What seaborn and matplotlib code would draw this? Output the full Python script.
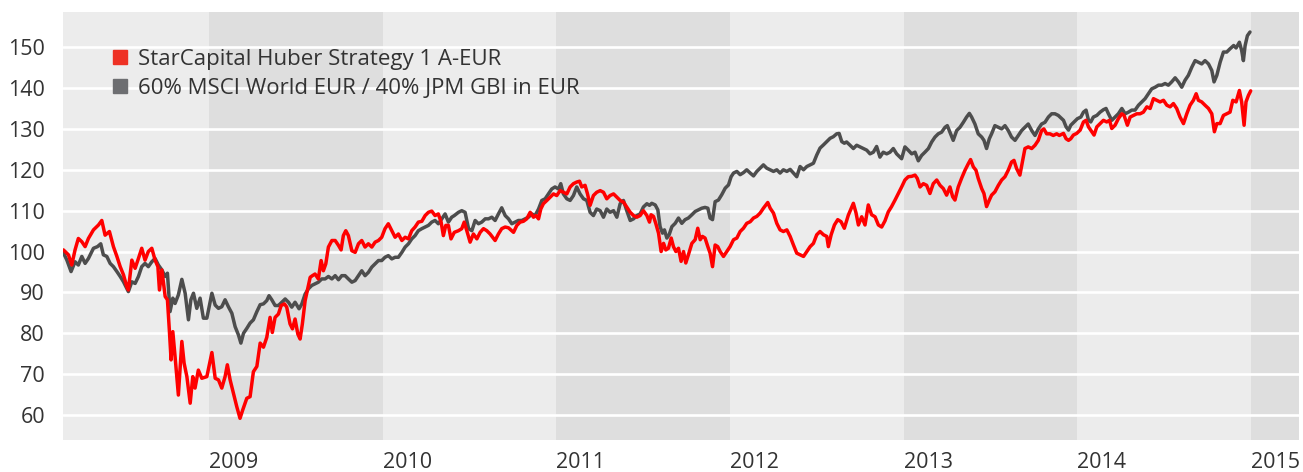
import matplotlib
matplotlib.use("Agg")
import matplotlib.pyplot as plt
from matplotlib.lines import Line2D
import seaborn as sns
import pandas as pd

# values (x in decimal years)
red_year = [
    2008.161, 2008.190, 2008.209, 2008.228, 2008.247, 2008.267, 2008.286, 2008.305, 2008.334, 2008.363,
    2008.382, 2008.401, 2008.426, 2008.449, 2008.469, 2008.488, 2008.507, 2008.526, 2008.535, 2008.555,
    2008.574, 2008.593, 2008.612, 2008.631, 2008.650, 2008.670, 2008.689, 2008.705, 2008.714, 2008.728,
    2008.747, 2008.760, 2008.771, 2008.781, 2008.791, 2008.804, 2008.823, 2008.843, 2008.856, 2008.872,
    2008.891, 2008.906, 2008.919, 2008.938, 2008.958, 2008.987, 2009.016, 2009.035, 2009.054, 2009.073,
    2009.092, 2009.105, 2009.121, 2009.140, 2009.159, 2009.178, 2009.194, 2009.217, 2009.236, 2009.246,
    2009.255, 2009.275, 2009.294,
    2009.313, 2009.332, 2009.351, 2009.364, 2009.380, 2009.399, 2009.415, 2009.434, 2009.447, 2009.466,
    2009.480, 2009.495, 2009.511, 2009.524, 2009.537, 2009.553, 2009.568, 2009.582, 2009.595, 2009.610,
    2009.629, 2009.645, 2009.658, 2009.672, 2009.687, 2009.707, 2009.726, 2009.745, 2009.760, 2009.773,
    2009.787, 2009.802, 2009.822, 2009.841, 2009.860, 2009.879, 2009.898, 2009.917, 2009.937, 2009.956,
    2009.975, 2009.994, 2010.013, 2010.032, 2010.052, 2010.071, 2010.090, 2010.110, 2010.129, 2010.148,
    2010.167, 2010.186, 2010.205, 2010.225, 2010.244, 2010.263, 2010.282, 2010.301, 2010.320, 2010.336,
    2010.349, 2010.363, 2010.378, 2010.393, 2010.412,
    2010.436, 2010.455, 2010.469, 2010.484, 2010.503, 2010.522, 2010.542, 2010.561, 2010.580, 2010.599,
    2010.618, 2010.647, 2010.666, 2010.685, 2010.705, 2010.724, 2010.753, 2010.772, 2010.791, 2010.810,
    2010.829, 2010.849, 2010.868, 2010.883, 2010.897, 2010.910, 2010.925, 2010.945, 2010.964, 2010.983,
    2011.002, 2011.021, 2011.041, 2011.060, 2011.079, 2011.098, 2011.117, 2011.133, 2011.146, 2011.165,
    2011.179, 2011.194, 2011.213, 2011.232, 2011.252, 2011.271, 2011.290, 2011.309, 2011.329, 2011.348,
    2011.367, 2011.386, 2011.405, 2011.425, 2011.444, 2011.463, 2011.482, 2011.501, 2011.521, 2011.536,
    2011.545, 2011.559, 2011.572, 2011.588, 2011.603, 2011.617, 2011.630, 2011.645, 2011.661, 2011.674,
    2011.688, 2011.703, 2011.718, 2011.732, 2011.745, 2011.760, 2011.780, 2011.799, 2011.814, 2011.828,
    2011.841, 2011.856, 2011.872, 2011.885, 2011.899, 2011.914, 2011.929, 2011.943, 2011.962, 2011.981,
    2012.000, 2012.020, 2012.039, 2012.058, 2012.077, 2012.096, 2012.116, 2012.135, 2012.154, 2012.173,
    2012.192, 2012.206, 2012.217, 2012.231, 2012.250, 2012.269, 2012.288, 2012.307, 2012.327, 2012.346,
    2012.365, 2012.384, 2012.403, 2012.423, 2012.442, 2012.461, 2012.480, 2012.499, 2012.518, 2012.538,
    2012.557, 2012.566, 2012.582, 2012.601, 2012.620, 2012.639, 2012.658,
    2012.681, 2012.694, 2012.710, 2012.725, 2012.739, 2012.758, 2012.777, 2012.796, 2012.815, 2012.835,
    2012.854, 2012.873, 2012.892, 2012.911, 2012.930, 2012.950, 2012.969, 2012.988, 2013.007, 2013.026,
    2013.046, 2013.065, 2013.078, 2013.094, 2013.113, 2013.132, 2013.151, 2013.170, 2013.190, 2013.209,
    2013.228, 2013.247, 2013.266, 2013.282, 2013.295, 2013.314, 2013.333, 2013.353, 2013.372, 2013.385,
    2013.401, 2013.416, 2013.429, 2013.449, 2013.462, 2013.477, 2013.493, 2013.506, 2013.525, 2013.545,
    2013.564, 2013.583, 2013.602, 2013.621, 2013.635, 2013.650, 2013.669, 2013.685, 2013.698, 2013.717,
    2013.737, 2013.756, 2013.775, 2013.794, 2013.807, 2013.823, 2013.842, 2013.861, 2013.881, 2013.896,
    2013.920, 2013.935, 2013.949, 2013.962, 2013.977, 2013.996, 2014.016, 2014.035, 2014.050, 2014.064,
    2014.083, 2014.096, 2014.112, 2014.131, 2014.150, 2014.169, 2014.185, 2014.198, 2014.217, 2014.236,
    2014.256, 2014.269, 2014.288, 2014.304, 2014.323, 2014.342, 2014.361, 2014.380, 2014.400, 2014.419,
    2014.438, 2014.457, 2014.476, 2014.496, 2014.515, 2014.534, 2014.553, 2014.572, 2014.591, 2014.611,
    2014.630, 2014.649, 2014.668, 2014.684, 2014.697, 2014.716, 2014.735, 2014.755, 2014.774, 2014.789,
    2014.803, 2014.822, 2014.841, 2014.860, 2014.879, 2014.895, 2014.914, 2014.933, 2014.946, 2014.960,
    2014.971, 2014.985, 2014.998,
]
red_value = [
    100.4, 99.2, 96.7, 100.4, 103.2, 102.4, 101.2, 103.2, 105.3, 106.5,
    107.6, 104.0, 104.9, 101.2, 98.8, 96.3, 94.3, 91.4, 90.6, 97.9,
    95.9, 98.3, 100.8, 97.9, 100.0, 100.8, 97.9, 96.3, 90.6, 95.5,
    89.0, 88.2, 80.8, 73.5, 80.4, 74.3, 64.9, 78.0, 72.7, 69.4,
    62.9, 69.4, 66.6, 71.0, 69.0, 69.4, 75.3, 69.0, 68.6, 66.6,
    69.4, 72.3, 68.6, 65.3, 62.1, 59.2, 61.3, 64.1, 64.5, 67.8,
    70.6, 71.9, 77.6,
    76.6, 79.0, 83.9, 80.2, 83.9, 84.7, 86.8, 87.2, 86.4, 82.3,
    81.1, 83.5, 79.8, 78.6, 82.3, 88.0, 90.9, 93.7, 94.1, 94.5,
    93.3, 97.8, 95.3, 97.0, 101.1, 102.7, 102.7, 101.5, 100.4, 103.9,
    105.1, 103.9, 100.2, 99.8, 101.9, 102.7, 101.1, 101.9, 101.1, 102.3,
    102.7, 103.5, 105.6, 106.8, 105.1, 103.5, 104.3, 102.7, 103.5, 103.1,
    105.1, 106.0, 107.2, 107.4, 108.8, 109.6, 109.9, 108.8, 109.2, 107.2,
    103.9, 106.4, 106.4, 103.1, 104.7,
    105.1, 105.6, 107.2, 105.1, 102.3, 104.3, 103.1, 104.7, 105.6, 105.1,
    104.3, 102.7, 104.3, 105.6, 106.0, 105.8, 104.7, 106.4, 107.2, 107.4,
    108.0, 109.6, 108.4, 108.8, 108.0, 110.4, 111.7, 112.5, 113.3, 114.1,
    113.7, 114.9, 114.5, 114.1, 115.8, 116.6, 117.0, 117.2, 115.8, 116.2,
    114.1, 111.3, 113.7, 114.5, 114.9, 114.5, 112.9, 113.7, 114.1, 113.3,
    112.5, 112.1, 110.9, 109.6, 108.8, 108.4, 108.8, 110.0, 108.8, 107.2,
    109.0, 108.6, 106.9, 104.5, 100.0, 102.0, 100.4, 100.8, 103.3, 101.2,
    100.0, 100.8, 97.6, 100.0, 97.2, 99.2, 102.0, 102.9, 105.7, 102.9,
    103.7, 103.3, 101.2, 99.6, 96.3, 101.6, 101.2, 100.0, 98.8, 100.0,
    101.2, 102.9, 103.3, 104.9, 105.7, 106.9, 107.3, 108.2, 108.6, 109.4,
    110.6, 111.4, 112.0, 110.6, 109.4, 106.9, 105.3, 104.9, 105.3, 103.7,
    101.6, 99.6, 99.2, 98.8, 100.0, 101.2, 102.0, 104.1, 104.9, 104.1,
    103.7, 101.2, 104.1, 106.5, 107.8, 107.3, 105.7,
    108.9, 110.2, 111.8, 109.5, 106.5, 108.5, 106.5, 111.4, 109.0, 108.5,
    106.5, 106.0, 107.5, 109.7, 111.0, 112.6, 114.2, 115.8, 117.5, 118.3,
    118.4, 118.7, 117.9, 115.8, 116.6, 116.2, 114.2, 116.6, 117.5, 116.2,
    115.4, 113.8, 115.8, 113.4, 112.6, 115.8, 117.9, 119.9, 121.5, 122.5,
    120.7, 119.9, 117.9, 115.4, 114.2, 111.0, 112.6, 113.8, 114.6, 116.2,
    117.5, 118.3, 119.9, 121.9, 122.3, 120.3, 118.7, 122.3, 125.2, 125.6,
    125.2, 126.0, 127.2, 129.6, 130.0, 128.8, 128.8, 128.4, 128.8, 128.4,
    128.9, 127.6, 127.2, 127.6, 128.5, 128.9, 129.7, 131.7, 132.1, 130.5,
    129.3, 128.5, 130.5, 131.3, 132.1, 131.7, 132.1, 130.1, 130.9, 132.5,
    133.7, 133.3, 130.9, 132.9, 133.3, 133.7, 133.7, 134.1, 135.4, 135.0,
    137.4, 137.0, 136.6, 137.0, 135.8, 135.4, 136.2, 135.0, 132.9, 131.3,
    133.7, 135.8, 137.0, 138.6, 137.0, 136.6, 135.8, 135.0, 133.7, 129.3,
    131.3, 131.3, 133.3, 133.7, 134.1, 137.0, 136.6, 139.4, 136.6, 130.9,
    136.6, 138.2, 139.3,
]

gray_year = [
    2008.161, 2008.181, 2008.205, 2008.228, 2008.247, 2008.267, 2008.286, 2008.305, 2008.334, 2008.357,
    2008.376, 2008.391, 2008.411, 2008.430, 2008.449, 2008.469, 2008.488, 2008.507, 2008.535, 2008.555,
    2008.574, 2008.593, 2008.612, 2008.631, 2008.650, 2008.670, 2008.689, 2008.708, 2008.728, 2008.747,
    2008.760, 2008.775, 2008.791, 2008.804, 2008.823, 2008.843, 2008.862, 2008.881, 2008.895, 2008.910,
    2008.929, 2008.948, 2008.967, 2008.987, 2009.016, 2009.035, 2009.054, 2009.073, 2009.092, 2009.111,
    2009.131, 2009.150, 2009.169, 2009.183, 2009.198, 2009.217, 2009.236, 2009.255, 2009.275, 2009.294,
    2009.313, 2009.332, 2009.345, 2009.361, 2009.380, 2009.399, 2009.419, 2009.438, 2009.457, 2009.476,
    2009.495, 2009.518, 2009.534, 2009.553, 2009.572, 2009.591, 2009.610, 2009.629, 2009.649, 2009.668,
    2009.687, 2009.707, 2009.726, 2009.745, 2009.764, 2009.783, 2009.802, 2009.822, 2009.841, 2009.860,
    2009.879, 2009.898, 2009.917, 2009.937, 2009.956, 2009.975, 2009.994, 2010.013, 2010.032, 2010.052,
    2010.071, 2010.090, 2010.110, 2010.129, 2010.148, 2010.167, 2010.186, 2010.205, 2010.225, 2010.244,
    2010.263, 2010.282, 2010.301, 2010.320, 2010.340, 2010.359, 2010.378, 2010.397, 2010.412,
    2010.436, 2010.455, 2010.474, 2010.494, 2010.513, 2010.532, 2010.551, 2010.570, 2010.590, 2010.609,
    2010.628, 2010.647, 2010.666, 2010.685, 2010.705, 2010.724, 2010.743, 2010.762, 2010.781, 2010.801,
    2010.820, 2010.839, 2010.858, 2010.877, 2010.897, 2010.916, 2010.935, 2010.954, 2010.973, 2010.992,
    2011.012, 2011.025, 2011.040, 2011.060, 2011.079, 2011.098, 2011.117, 2011.136, 2011.156, 2011.175,
    2011.194, 2011.213, 2011.232, 2011.252, 2011.271, 2011.290, 2011.309, 2011.329, 2011.348, 2011.367,
    2011.386, 2011.405, 2011.425, 2011.444, 2011.463, 2011.482, 2011.501, 2011.521, 2011.536,
    2011.549, 2011.569, 2011.584, 2011.597, 2011.611, 2011.622, 2011.636, 2011.649, 2011.665, 2011.684,
    2011.703, 2011.722, 2011.741, 2011.760, 2011.780, 2011.799, 2011.818, 2011.837, 2011.856, 2011.872,
    2011.885, 2011.899, 2011.914, 2011.933, 2011.952, 2011.972, 2011.991, 2012.006, 2012.020, 2012.039,
    2012.058, 2012.077, 2012.096, 2012.116, 2012.135, 2012.154, 2012.173, 2012.192, 2012.211, 2012.231,
    2012.250, 2012.269, 2012.288, 2012.307, 2012.327, 2012.346, 2012.365, 2012.384, 2012.403, 2012.423,
    2012.442, 2012.461, 2012.480, 2012.499, 2012.518, 2012.538, 2012.557, 2012.576, 2012.595, 2012.614,
    2012.628, 2012.643, 2012.658,
    2012.671, 2012.691, 2012.710, 2012.729, 2012.748, 2012.767, 2012.787, 2012.806, 2012.825, 2012.844,
    2012.863, 2012.882, 2012.902, 2012.921, 2012.940, 2012.959, 2012.988, 2013.007, 2013.026, 2013.046,
    2013.065, 2013.084, 2013.103, 2013.122, 2013.142, 2013.161, 2013.180, 2013.199, 2013.218, 2013.238,
    2013.251, 2013.266, 2013.285, 2013.305, 2013.324, 2013.343, 2013.362, 2013.378, 2013.391, 2013.410,
    2013.429, 2013.449, 2013.462, 2013.477, 2013.493, 2013.506, 2013.525, 2013.545, 2013.564, 2013.583,
    2013.602, 2013.621, 2013.641, 2013.660, 2013.679, 2013.698, 2013.717, 2013.737, 2013.756, 2013.775,
    2013.794, 2013.813, 2013.833, 2013.852, 2013.871, 2013.890,
    2013.900, 2013.920, 2013.935, 2013.949, 2013.962, 2013.981, 2014.000, 2014.020, 2014.035, 2014.050,
    2014.064, 2014.077, 2014.092, 2014.112, 2014.131, 2014.150, 2014.165, 2014.179, 2014.198, 2014.217,
    2014.236, 2014.256, 2014.275, 2014.294, 2014.313, 2014.332, 2014.352, 2014.371, 2014.390, 2014.409,
    2014.428, 2014.448, 2014.467, 2014.486, 2014.505, 2014.524, 2014.543, 2014.563, 2014.582, 2014.601,
    2014.620, 2014.639, 2014.659, 2014.678, 2014.697, 2014.716, 2014.735, 2014.755, 2014.774, 2014.787,
    2014.803, 2014.822, 2014.841, 2014.860, 2014.879, 2014.900, 2014.914, 2014.933, 2014.946, 2014.956,
    2014.966, 2014.979, 2014.994,
]
gray_value = [
    99.7, 97.9, 95.1, 97.5, 96.7, 98.8, 97.1, 98.3, 100.8, 101.2,
    101.9, 99.2, 98.8, 97.1, 96.3, 95.1, 93.9, 92.6, 90.2, 92.6,
    92.2, 93.9, 96.3, 97.1, 96.3, 97.5, 98.3, 96.7, 95.5, 93.9,
    94.7, 85.3, 88.6, 87.3, 89.4, 93.2, 89.8, 83.3, 88.2, 89.8,
    86.1, 88.6, 83.7, 83.7, 89.8, 86.9, 86.1, 86.5, 88.2, 86.5,
    84.9, 81.6, 79.6, 77.6, 80.0, 81.2, 82.5, 83.3, 85.3, 87.0,
    87.2, 88.0, 89.2, 88.2, 86.8, 86.8, 87.6, 88.4, 87.6, 86.4,
    87.6, 86.0, 87.2, 89.6, 90.9, 91.7, 92.1, 92.5, 93.3, 93.3,
    93.9, 93.3, 94.1, 93.1, 94.1, 94.1, 93.3, 92.5, 92.9, 94.1,
    95.3, 94.1, 94.9, 96.2, 97.0, 97.8, 97.8, 98.6, 99.0, 98.2,
    98.6, 98.6, 99.8, 101.1, 101.9, 103.1, 103.9, 105.1, 105.6, 106.0,
    106.4, 107.2, 107.6, 106.8, 108.0, 109.2, 107.2, 108.4, 108.8,
    109.6, 110.0, 109.6, 105.6, 105.1, 107.6, 106.8, 107.2, 108.0, 108.0,
    108.4, 107.6, 109.2, 110.7, 108.8, 108.0, 106.8, 107.2, 107.6, 107.6,
    108.0, 108.4, 109.2, 108.8, 110.4, 112.5, 112.9, 114.1, 115.3, 115.8,
    115.3, 116.6, 114.1, 112.9, 112.5, 113.7, 115.8, 114.1, 112.9, 112.5,
    109.6, 108.8, 110.4, 110.0, 108.4, 110.4, 109.6, 110.0, 108.4, 111.7,
    112.5, 110.0, 107.6, 108.0, 108.8, 109.2, 110.9, 111.7, 111.3,
    111.8, 111.4, 110.2, 106.1, 104.5, 105.3, 103.3, 104.1, 106.1, 106.9,
    108.2, 106.9, 107.8, 108.2, 109.0, 109.8, 110.2, 110.6, 110.8, 110.6,
    108.2, 107.8, 112.2, 112.6, 113.9, 115.5, 116.3, 118.3, 119.2, 119.6,
    118.8, 119.3, 120.0, 119.2, 118.5, 119.6, 120.4, 121.2, 120.4, 120.0,
    119.6, 120.0, 119.2, 120.0, 119.6, 120.1, 119.2, 118.3, 120.8, 120.0,
    120.8, 121.2, 121.6, 123.6, 125.3, 126.1, 126.9, 127.7, 128.1, 128.8,
    128.9, 126.9, 126.5,
    126.8, 126.0, 125.2, 126.0, 125.6, 125.2, 124.8, 123.9, 124.3, 125.7,
    123.1, 124.3, 123.9, 124.3, 125.2, 123.9, 122.7, 125.6, 124.8, 123.9,
    124.3, 122.2, 123.5, 124.3, 125.2, 126.8, 128.0, 128.8, 129.2, 130.4,
    130.8, 129.2, 127.2, 129.6, 130.4, 131.6, 132.9, 133.8, 132.9, 131.2,
    128.8, 128.0, 127.2, 125.2, 127.6, 128.8, 130.8, 130.4, 130.0, 130.8,
    129.6, 128.0, 127.2, 128.4, 129.6, 130.4, 131.2, 129.6, 128.4, 130.0,
    131.2, 131.6, 132.9, 133.7, 133.7, 133.3,
    132.9, 132.1, 130.5, 129.7, 130.9, 131.7, 132.5, 132.9, 134.1, 134.6,
    132.1, 131.7, 132.9, 133.3, 134.1, 134.7, 135.0, 133.7, 132.1, 132.9,
    133.7, 135.0, 133.7, 134.1, 134.6, 134.6, 135.8, 136.6, 137.4, 138.6,
    139.8, 140.2, 140.7, 140.7, 141.1, 140.7, 141.5, 142.5, 141.5, 140.2,
    141.9, 143.1, 145.1, 146.7, 146.3, 145.9, 146.7, 145.9, 144.3, 141.5,
    143.1, 146.3, 148.8, 148.8, 149.6, 150.4, 149.8, 151.2, 149.2, 146.7,
    150.4, 152.8, 153.7,
]

y_ticks = [60, 70, 80, 90, 100, 110, 120, 130, 140, 150]
year_ticks = [2009, 2010, 2011, 2012, 2013, 2014, 2015]
shaded_years = [2009, 2011, 2013, 2015]
labels = ["StarCapital Huber Strategy 1 A-EUR", "60% MSCI World EUR / 40% JPM GBI in EUR"]

red_df = pd.DataFrame({"year": red_year, "value": red_value})
gray_df = pd.DataFrame({"year": gray_year, "value": gray_value})

sns.set_style("white")
plt.rcParams["font.family"] = ["Open Sans", "DejaVu Sans"]
text_col = "#333333"

fig = plt.figure(figsize=(13.03, 4.72), dpi=100)
ax = fig.add_axes([0.0484, 0.0678, 0.9485, 0.9068])
ax.set_facecolor("#ececec")

x_min, x_max = 2008.159, 2015.276
for yr in shaded_years:
    ax.axvspan(yr, min(yr + 1, x_max), color="#dedede", lw=0, zorder=0)
for t in y_ticks:
    ax.axhline(t, color="white", lw=1.9, zorder=1)

sns.lineplot(data=gray_df, x="year", y="value", color="#4d4d4d", lw=2.5, ax=ax, zorder=3)
sns.lineplot(data=red_df, x="year", y="value", color="#ff0000", lw=2.5, ax=ax, zorder=4)

ax.set_xlim(x_min, x_max)
ax.set_ylim(53.9, 158.6)
ax.set_xlabel("")
ax.set_ylabel("")
ax.set_yticks(y_ticks)
ax.set_xticks(year_ticks)
ax.set_xticklabels([str(y) for y in year_ticks], ha="left")
ax.tick_params(axis="both", length=0, labelsize=15.5, colors=text_col)
ax.tick_params(axis="y", pad=13)
ax.tick_params(axis="x", pad=9)
ax.grid(False)
for s in ax.spines.values():
    s.set_visible(False)

handles = [
    Line2D([], [], marker="s", ls="none", markersize=10, color="#ee3124"),
    Line2D([], [], marker="s", ls="none", markersize=10, color="#6d6e71"),
]
leg = ax.legend(handles, labels, loc="upper left", bbox_to_anchor=(0.040, 0.913),
                frameon=False, fontsize=16, handlelength=0.65, handletextpad=0.5,
                labelspacing=0.33, borderpad=0, borderaxespad=0)
for t in leg.get_texts():
    t.set_color(text_col)

fig.savefig("out.png", dpi=100)
